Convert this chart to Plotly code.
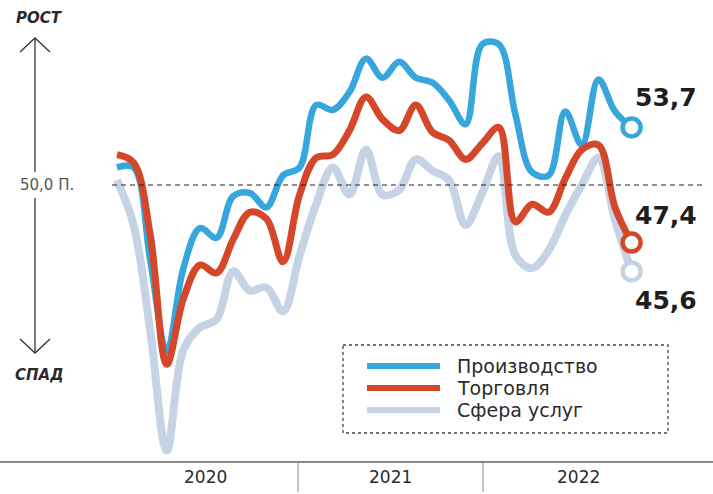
import plotly.graph_objects as go

# ─── Data (monthly index, Jan 2020 → Aug 2022) ──────────────────────────────
MONTHS = [f"{y}-{m:02d}" for y in (2020, 2021, 2022) for m in range(1, 13)][:32]

PRODUCTION = [51.1, 51.1, 45.3, 39.6, 44.8, 47.3, 46.7, 49.3, 49.5, 48.6, 50.6, 51.1,
              55.0, 54.7, 55.8, 57.9, 56.7, 57.7, 56.7, 56.4, 55.3, 53.8, 58.8, 58.8,
              54.4, 50.8, 50.6, 54.6, 52.5, 56.6, 54.6, 53.6]
TRADE = [51.9, 51.4, 46.9, 38.8, 42.9, 45.0, 44.5, 46.6, 48.3, 47.9, 45.2, 49.4,
         51.7, 51.9, 53.4, 55.5, 54.1, 53.4, 55.0, 53.3, 52.8, 51.6, 52.6, 53.6,
         47.7, 48.8, 48.3, 50.4, 52.2, 52.5, 48.6, 46.4]
SERVICES = [50.3, 47.5, 40.9, 33.4, 39.7, 41.1, 41.6, 44.6, 43.4, 43.6, 42.1, 45.6,
            48.8, 51.1, 49.4, 52.2, 49.4, 49.7, 51.6, 50.9, 50.3, 47.5, 49.5, 51.8,
            45.6, 44.8, 45.9, 48.1, 50.0, 51.7, 47.8, 44.6]

SERIES_NAMES = ["Производство", "Торговля", "Сфера услуг"]
END_LABELS = ["53,7", "47,4", "45,6"]
YEARS = ["2020", "2021", "2022"]
BASELINE = 50.0

# ─── Style ──────────────────────────────────────────────────────────────────
BLUE = "#36A6DC"
RED = "#D4472A"
GREY = "#C6D3E4"
TEXT = "#2B2B2B"
W, H = 713, 494
T, B = 20, 32          # plot top / bottom margins (px)
PH = H - T - B


def px(x):
    return x / W


def py(y):
    return (H - B - y) / PH


x = list(range(len(MONTHS)))
fig = go.Figure()

for name, vals, color, width in [
    (SERIES_NAMES[2], SERVICES, GREY, 8),
    (SERIES_NAMES[0], PRODUCTION, BLUE, 6.5),
    (SERIES_NAMES[1], TRADE, RED, 7),
]:
    fig.add_trace(go.Scatter(
        x=x, y=vals, mode="lines", name=name,
        line=dict(color=color, width=width, shape="spline", smoothing=1.0),
        text=MONTHS, hovertemplate="%{text}: %{y}<extra>" + name + "</extra>",
        showlegend=False,
    ))

for vals, color in [(SERVICES, GREY), (PRODUCTION, BLUE), (TRADE, RED)]:
    fig.add_trace(go.Scatter(
        x=[x[-1]], y=[vals[-1]], mode="markers",
        marker=dict(size=18, color="white", line=dict(color=color, width=4.5)),
        showlegend=False, hoverinfo="skip",
    ))

shapes = []
# 50-point baseline
shapes.append(dict(type="line", xref="paper", yref="y", x0=px(112), x1=px(702),
                   y0=BASELINE, y1=BASELINE, line=dict(color="#222", width=1, dash="5px,4px")))
# bottom axis and year separators
shapes.append(dict(type="line", xref="paper", yref="paper", x0=0, x1=1, y0=py(462), y1=py(462),
                   line=dict(color="#8A8A8A", width=2)))
for sx in (298, 483):
    shapes.append(dict(type="line", xref="paper", yref="paper", x0=px(sx), x1=px(sx),
                       y0=py(463), y1=py(492), line=dict(color="#8A8A8A", width=1)))
# growth / decline arrows
arrow_line = dict(color="#333", width=1.3)
shapes.append(dict(type="line", xref="paper", yref="paper", x0=px(35), x1=px(35),
                   y0=py(38), y1=py(172), line=arrow_line))
shapes.append(dict(type="line", xref="paper", yref="paper", x0=px(35), x1=px(35),
                   y0=py(198), y1=py(353), line=arrow_line))
for tip, d in ((38, 1), (353, -1)):
    shapes.append(dict(type="path", xref="paper", yref="paper",
                       path=f"M {px(20)},{py(tip + 14 * d)} L {px(35)},{py(tip)} L {px(50)},{py(tip + 14 * d)}",
                       line=arrow_line))
# legend box
shapes.append(dict(type="rect", xref="paper", yref="paper", x0=px(343), x1=px(668),
                   y0=py(345), y1=py(433), line=dict(color="#444", width=1.3, dash="dot")))
for ly, color in zip((366, 388, 410), (BLUE, RED, GREY)):
    shapes.append(dict(type="line", xref="paper", yref="paper", x0=px(367), x1=px(440),
                       y0=py(ly), y1=py(ly), line=dict(color=color, width=6)))

annotations = []
for ly, name in zip((366, 388, 410), SERIES_NAMES):
    annotations.append(dict(xref="paper", yref="paper", x=px(455), y=py(ly), text=name,
                            showarrow=False, xanchor="left", yanchor="middle",
                            font=dict(size=19, color=TEXT, family="DejaVu Sans")))
for lbl, ly in zip(END_LABELS, (97, 215, 300)):
    annotations.append(dict(xref="paper", yref="paper", x=px(633), y=py(ly), text=f"<b>{lbl}</b>",
                            showarrow=False, xanchor="left", yanchor="middle",
                            font=dict(size=25, color="#1E1E1E", family="DejaVu Sans")))
for yr, cx in zip(YEARS, (205, 390, 578)):
    annotations.append(dict(xref="paper", yref="paper", x=px(cx), y=py(477), text=yr,
                            showarrow=False, xanchor="center", yanchor="middle",
                            font=dict(size=17, color=TEXT, family="DejaVu Sans")))
annotations.append(dict(xref="paper", yref="y", x=px(18), y=BASELINE, text="50,0 П.",
                        showarrow=False, xanchor="left", yanchor="middle",
                        font=dict(size=15, color="#555", family="DejaVu Sans")))
for txt, ty in (("РОСТ", 18), ("СПАД", 375)):
    annotations.append(dict(xref="paper", yref="paper", x=px(39), y=py(ty), text=f"<b><i>{txt}</i></b>",
                            showarrow=False, xanchor="center", yanchor="middle",
                            font=dict(size=15, color="#2A2A2A", family="DejaVu Sans")))

fig.update_layout(
    width=W, height=H,
    margin=dict(l=0, r=0, t=T, b=B),
    plot_bgcolor="white", paper_bgcolor="white",
    xaxis=dict(range=[-117 / 16.6, (W - 117) / 16.6], visible=False),
    yaxis=dict(range=[BASELINE - (H - B - 185) / 16, BASELINE + (185 - T) / 16], visible=False),
    shapes=shapes, annotations=annotations,
    showlegend=False,
)

# drop the page's default body margin so the figure sits at the window origin
fig.write_html("out.html", config={"displayModeBar": False},
               post_script="document.body.style.margin='0';")
